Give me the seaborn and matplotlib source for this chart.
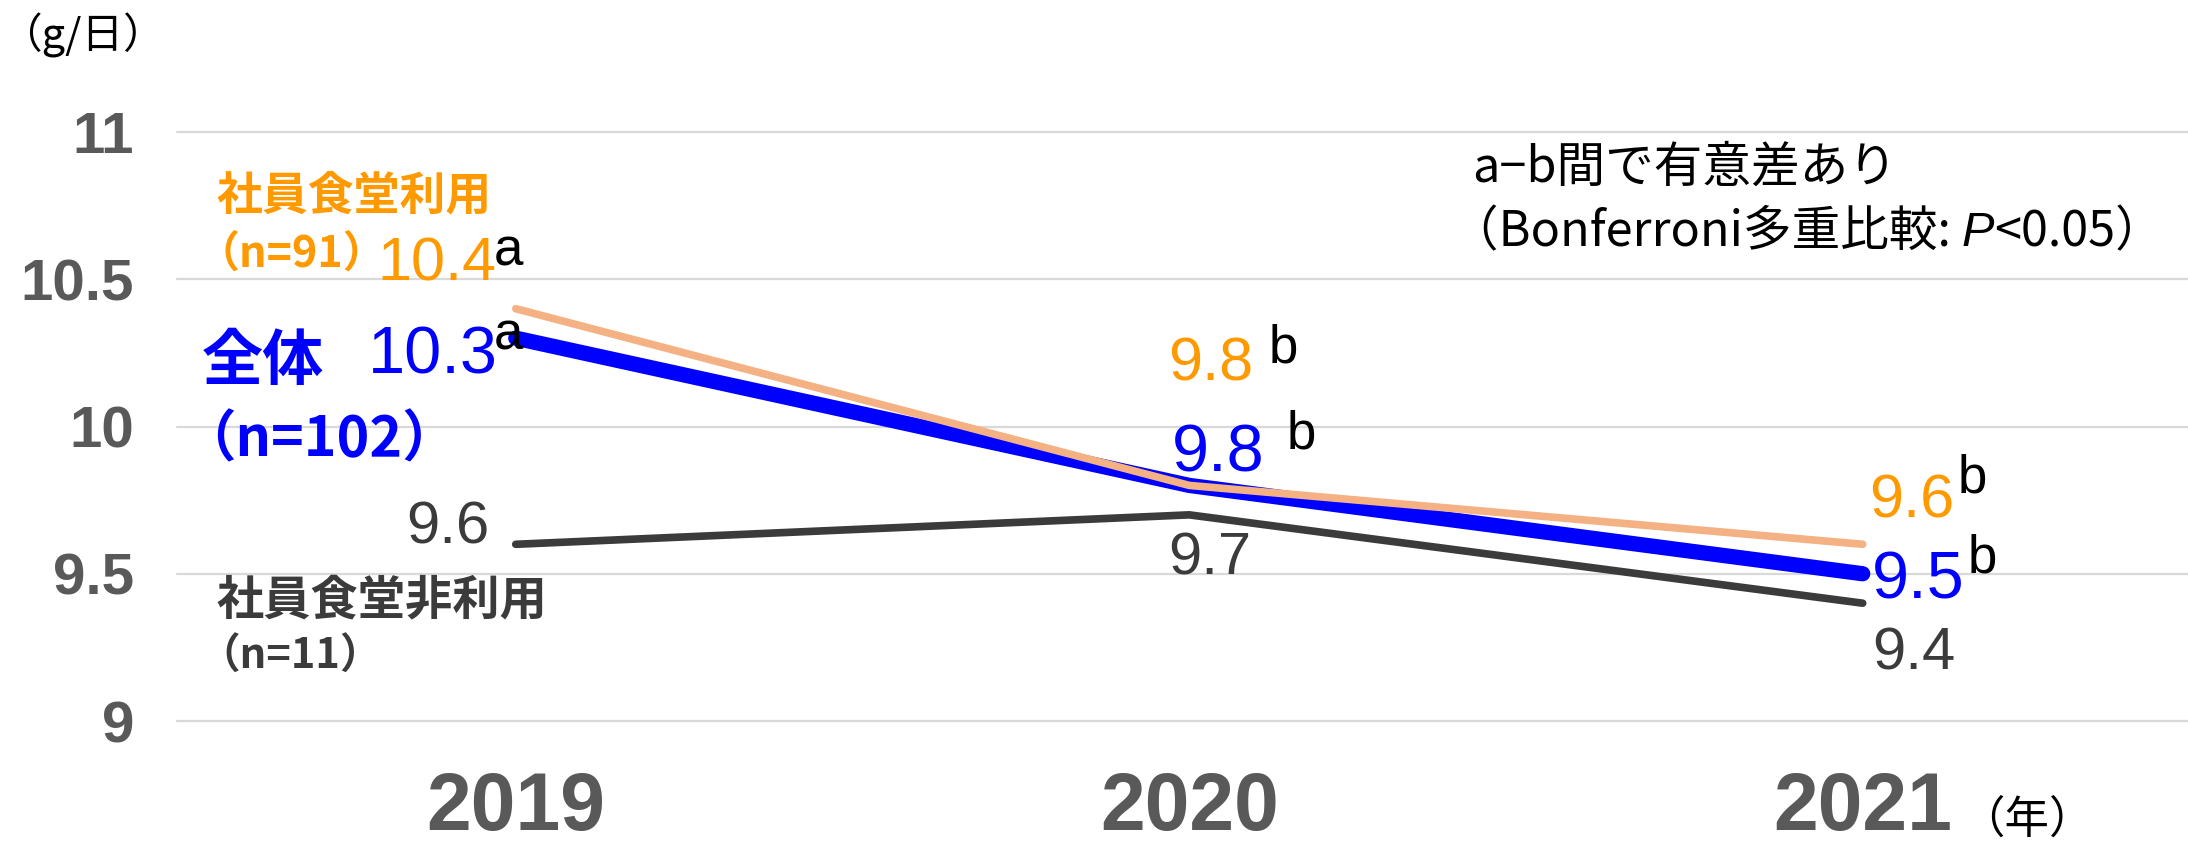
import matplotlib
matplotlib.use("Agg")
import matplotlib.pyplot as plt
import seaborn as sns
import pandas as pd

# ---- data -------------------------------------------------------------
years = ["2019", "2020", "2021"]
overall = [10.3, 9.8, 9.5]          # 全体 (n=102)
canteen_users = [10.4, 9.8, 9.6]    # 社員食堂利用 (n=91)
non_users = [9.6, 9.7, 9.4]         # 社員食堂非利用 (n=11)
sig_overall = ["a", "b", "b"]
sig_users = ["a", "b", "b"]
y_ticks = [9, 9.5, 10, 10.5, 11]
y_tick_labels = ["9", "9.5", "10", "10.5", "11"]

# ---- style ------------------------------------------------------------
sns.set_theme(style="white")
NUM = ["Liberation Sans", "DejaVu Sans"]
JP = ["Noto Sans CJK JP", "DejaVu Sans"]
plt.rcParams["font.family"] = JP

ORANGE_TXT = "#FF9900"
ORANGE_LINE = "#F4B183"
BLUE = "#0000FF"
DARK = "#3B3B3B"
GRAY = "#595959"

W, H = 2188, 846
fig = plt.figure(figsize=(W / 100, H / 100), dpi=100)
ax_left, ax_right, ax_top, ax_bottom = 177, 2188, 132, 721
ax = fig.add_axes([ax_left / W, 1 - ax_bottom / H,
                   (ax_right - ax_left) / W, (ax_bottom - ax_top) / H])


def fig_text(x_px, y_px, s, **kw):
    return fig.text(x_px / W, 1 - y_px / H, s, **kw)


df = pd.DataFrame({
    "pos": range(len(years)),
    "overall": overall,
    "users": canteen_users,
    "non_users": non_users,
})

sns.lineplot(data=df, x="pos", y="non_users", ax=ax, color=DARK, lw=5.5,
             solid_capstyle="round")
sns.lineplot(data=df, x="pos", y="overall", ax=ax, color=BLUE, lw=11,
             solid_capstyle="round")
sns.lineplot(data=df, x="pos", y="users", ax=ax, color=ORANGE_LINE, lw=5.5,
             solid_capstyle="round")

ax.set_xlim(-0.503, 2.483)
ax.set_ylim(9, 11)
ax.set_xlabel("")
ax.set_ylabel("")
for s in ax.spines.values():
    s.set_visible(False)

ax.set_yticks(y_ticks, y_tick_labels)
ax.set_xticks(range(len(years)), years)
ax.grid(axis="y", color="#D9D9D9", lw=1.6)
ax.grid(axis="x", visible=False)
for gl in ax.get_ygridlines():
    gl.set_clip_on(False)
ax.set_axisbelow(True)

ax.tick_params(axis="y", length=0, pad=31, labelsize=42, labelcolor=GRAY)
ax.tick_params(axis="x", length=0, pad=36, labelsize=58, labelcolor=GRAY)
for lab in ax.get_yticklabels() + ax.get_xticklabels():
    lab.set_fontfamily(NUM)
    lab.set_fontweight("bold")


# ---- value labels -----------------------------------------------------
def value_labels(values, offsets, color, size):
    for i, (v, (dx, dy)) in enumerate(zip(values, offsets)):
        ax.annotate(f"{v:.1f}", xy=(i, v), xytext=(dx, -dy),
                    textcoords="offset pixels", ha="center", va="center",
                    color=color, fontsize=size, family=NUM)


def sig_labels(values, letters, offsets):
    for i, (v, t, (dx, dy)) in enumerate(zip(values, letters, offsets)):
        ax.annotate(t, xy=(i, v), xytext=(dx, -dy),
                    textcoords="offset pixels", ha="center", va="center",
                    color="black", fontsize=38, family=NUM)


value_labels(canteen_users, [(-79, -44), (21, -120), (49, -42)], ORANGE_TXT, 44)
value_labels(overall, [(-83, 18), (29, -31), (56, 8)], BLUE, 48)
value_labels(non_users, [(-68, -16), (21, 44), (51, 51)], DARK, 43)
sig_labels(canteen_users, sig_users, [(-7, -57), (94, -137), (110, -66)])
sig_labels(overall, sig_overall, [(-7, -3), (112, -51), (120, -15)])

# ---- series names -----------------------------------------------------
fig_text(216, 196, "社員食堂利用", color=ORANGE_TXT, fontsize=33,
         fontweight="bold", va="center", ha="left")
fig_text(196, 254, "（n=91）", color=ORANGE_TXT, fontsize=31,
         fontweight="bold", va="center", ha="left")
fig_text(202, 362, "全体", color=BLUE, fontsize=44,
         fontweight="bold", va="center", ha="left")
fig_text(180, 440, "（n=102）", color=BLUE, fontsize=40,
         fontweight="bold", va="center", ha="left")
fig_text(216, 600, "社員食堂非利用", color=DARK, fontsize=34,
         fontweight="bold", va="center", ha="left")
fig_text(198, 657, "（n=11）", color=DARK, fontsize=30,
         fontweight="bold", va="center", ha="left")

# ---- units and notes --------------------------------------------------
fig_text(0, 35, "（g/日）", color="black", fontsize=30, va="center", ha="left")
fig_text(1960, 820, "（年）", color="black", fontsize=32, va="center", ha="left")

fig_text(1472, 168, "a−b間で有意差あり", color="black", fontsize=35,
         va="center", ha="left")
t1 = fig_text(1450, 233, "（Bonferroni多重比較: ", color="black",
              fontsize=35, va="center", ha="left")
t2 = ax.annotate("P", xy=(1, 0.5), xycoords=t1, va="center", ha="left",
                 color="black", fontsize=35, fontstyle="italic",
                 family=["Liberation Sans", "DejaVu Sans"],
                 annotation_clip=False)
ax.annotate("<0.05）", xy=(1, 0.5), xycoords=t2, va="center", ha="left",
            color="black", fontsize=35, annotation_clip=False)

fig.savefig("out.png", dpi=100, facecolor="white")
